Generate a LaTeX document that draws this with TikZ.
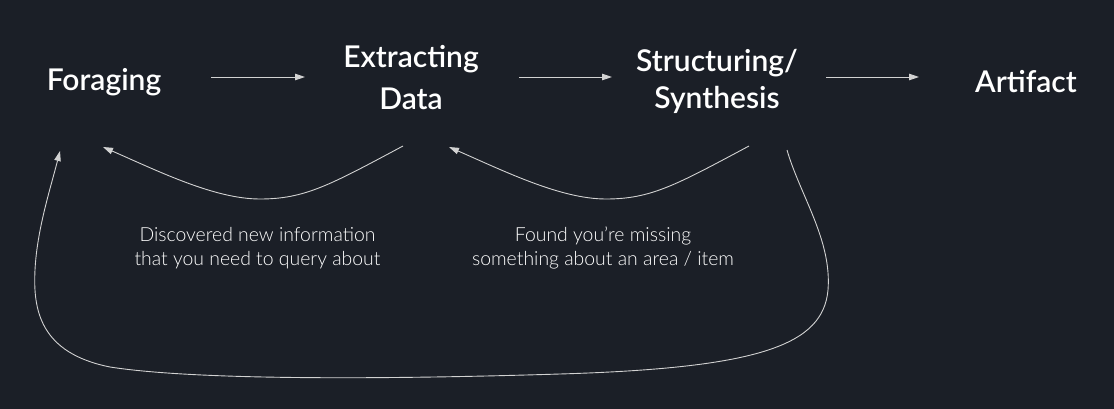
\documentclass[tikz,border=0pt]{standalone}
\usepackage{fontspec}
\setmainfont{Lato}
\newfontfamily\semifont{Lato Semibold}
\newfontfamily\lightfont{Lato Light}
\usetikzlibrary{arrows.meta}
\definecolor{bg}{HTML}{1B1F27}
\definecolor{ln}{HTML}{D2D2D2}
\begin{document}
\begin{tikzpicture}[x=1pt,y=-1pt,
  title/.style={text=white,font=\semifont\fontsize{30}{37}\selectfont,align=center,inner sep=0pt},
  note/.style={text=white,font=\lightfont\fontsize{19.4}{23.5}\selectfont,align=center,inner sep=0pt},
  conn/.style={draw=ln,line width=0.9pt,-{Triangle[length=10pt,width=6.5pt]}}]
\fill[bg] (0,0) rectangle (1114,409);
\useasboundingbox (0,0) rectangle (1114,409);
\node[title] (for) at (104,82) {Foraging};
\node[title] (ext) at (411,78) {Extracting\\[5pt]Data};
\node[title] (str) at (717,81.5) {Structuring/\\Synthesis};
\node[title] (art) at (1026,82) {Artifact};
\node[note] (n1) at (257.5,248) {Discovered new information\\that you need to query about};
\node[note] (n2) at (603,248) {Found you’re missing\\something about an area / item};
\coordinate (a1s) at (211,77); \coordinate (a1e) at (305,77);
\coordinate (a2s) at (519,77); \coordinate (a2e) at (612,77);
\coordinate (a3s) at (826,77); \coordinate (a3e) at (919,77);
\draw[conn] (a1s) -- (a1e);
\draw[conn] (a2s) -- (a2e);
\draw[conn] (a3s) -- (a3e);
\coordinate (c1s) at (403,146); \coordinate (c1e) at (103,147);
\coordinate (c2s) at (749,146); \coordinate (c2e) at (449,147);
\draw[conn] (c1s) .. controls (330,185) and (305,199) .. (260,199)
  .. controls (215,199) and (160,172) .. (c1e);
\draw[conn] (c2s) .. controls (676,185) and (651,199) .. (606,199)
  .. controls (561,199) and (506,172) .. (c2e);
\coordinate (c3s) at (787,150); \coordinate (c3e) at (60,151);
\draw[conn] (c3s) .. controls (800,195) and (832,240) .. (828,290)
  .. controls (823,345) and (760,368) .. (560,374)
  .. controls (400,379) and (200,381) .. (110,367)
  .. controls (40,353) and (33,310) .. (35,270)
  .. controls (37,230) and (50,190) .. (c3e);
\end{tikzpicture}
\end{document}
